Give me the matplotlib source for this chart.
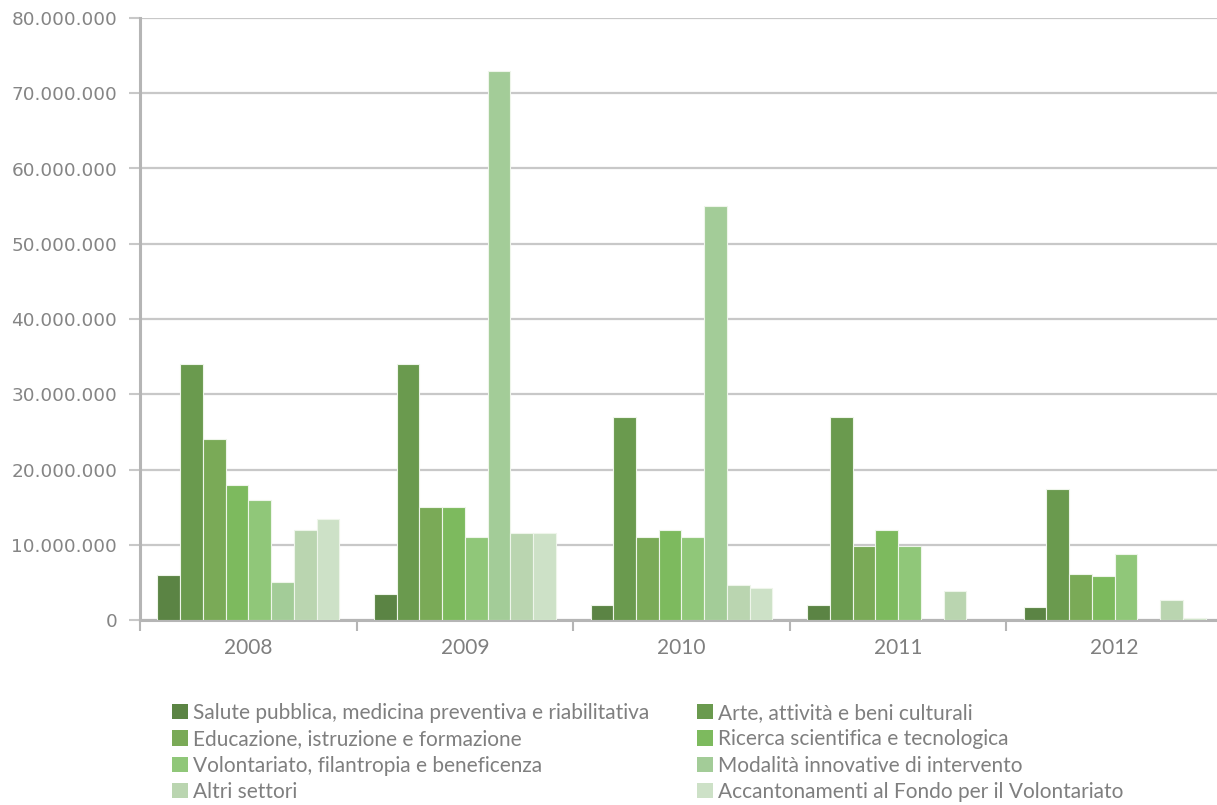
import numpy as np
import matplotlib
matplotlib.use("Agg")
import matplotlib.pyplot as plt
from matplotlib.patches import Patch
from matplotlib.ticker import FuncFormatter, FixedLocator

# ================= DATA =================
years = ["2008", "2009", "2010", "2011", "2012"]
sectors = [
    "Salute pubblica, medicina preventiva e riabilitativa",
    "Arte, attività e beni culturali",
    "Educazione, istruzione e formazione",
    "Ricerca scientifica e tecnologica",
    "Volontariato, filantropia e beneficenza",
    "Modalità innovative di intervento",
    "Altri settori",
    "Accantonamenti al Fondo per il Volontariato",
]
# values in euro, one list per sector (2008..2012)
salute = [6000000, 3450000, 2000000, 2000000, 1700000]
arte = [34000000, 34000000, 27000000, 27000000, 17400000]
educazione = [24000000, 15000000, 11000000, 9800000, 6100000]
ricerca = [17900000, 15000000, 12000000, 12000000, 5900000]
volontariato = [15900000, 11000000, 11000000, 9800000, 8800000]
modalita = [5000000, 73000000, 55000000, 0, 0]
altri = [12000000, 11500000, 4650000, 3900000, 2700000]
accantonamenti = [13450000, 11500000, 4200000, 0, 270000]

series = [salute, arte, educazione, ricerca, volontariato, modalita, altri, accantonamenti]
colors = ["#5b8444", "#6a9a4e", "#7aaa57", "#7dba5e", "#90c779", "#a3cc98", "#bad5b0", "#cde1c7"]
# ========================================

LABEL_FONT = ["Lato", "DejaVu Sans"]

W, H = 1217, 805
fig = plt.figure(figsize=(W / 100, H / 100), dpi=100)
# plot area: x from 140 to ~1223 px (slightly cut at right edge), y from 18 to 620 px
ax = fig.add_axes([140 / W, (H - 620) / H, (1223 - 140) / W, (620 - 18) / H])

n = len(series)
bar_w = 0.84 / n
x = np.arange(len(years))
for i, (vals, col) in enumerate(zip(series, colors)):
    offs = (i - (n - 1) / 2) * bar_w
    # no outline on empty bars, otherwise they show up as a line on the axis
    edges = ["#eef5ea" if v > 0 else "none" for v in vals]
    ax.bar(x + offs, vals, width=bar_w, color=col, edgecolor=edges, linewidth=0.8, zorder=3)

ax.set_xlim(-0.5, len(years) - 0.5)
ax.set_ylim(0, 80000000)

grid_col = "#c8c8c8"
ax.set_yticks(np.arange(0, 80000001, 10000000))
ax.yaxis.set_major_formatter(FuncFormatter(lambda v, p: f"{int(v):,}".replace(",", ".")))
ax.yaxis.grid(True, color=grid_col, linewidth=1.6, zorder=0)
ax.tick_params(axis="y", length=8, width=1.5, color=grid_col, pad=8.5,
               labelsize=13.3, labelcolor="#858585")
for lab in ax.get_yticklabels():
    lab.set_fontfamily("DejaVu Sans")

ax.set_xticks(x)
ax.set_xticklabels(years)
ax.xaxis.set_minor_locator(FixedLocator(np.arange(-0.5, len(years), 1.0)))
ax.tick_params(axis="x", which="major", length=0, pad=13, labelsize=15, labelcolor="#7f7f7f")
ax.tick_params(axis="x", which="minor", length=8, width=1.5, color="#b5b5b5")
for lab in ax.get_xticklabels():
    lab.set_fontfamily(LABEL_FONT)

for s in ["top", "right"]:
    ax.spines[s].set_visible(False)
ax.spines["left"].set_color("#b5b5b5")
ax.spines["left"].set_linewidth(2.2)
ax.spines["bottom"].set_color("#b5b5b5")
ax.spines["bottom"].set_linewidth(2.2)
ax.set_axisbelow(True)

# legend: two columns, filled row by row
handles = [Patch(facecolor=c, edgecolor="none") for c in colors]
leg_font = {"family": LABEL_FONT, "size": 15}
for col_idx, x0 in enumerate([172, 697]):
    idx = list(range(col_idx, n, 2))
    leg = fig.legend([handles[i] for i in idx], [sectors[i] for i in idx],
                     loc="upper left", bbox_to_anchor=(x0 / W, 1 - 703 / H),
                     frameon=False, prop=leg_font, handlelength=0.75, handleheight=0.75,
                     handletextpad=0.25, labelspacing=0.3, borderpad=0, borderaxespad=0)
    for t in leg.get_texts():
        t.set_color("#7f7f7f")

fig.savefig("out.png", dpi=100)
